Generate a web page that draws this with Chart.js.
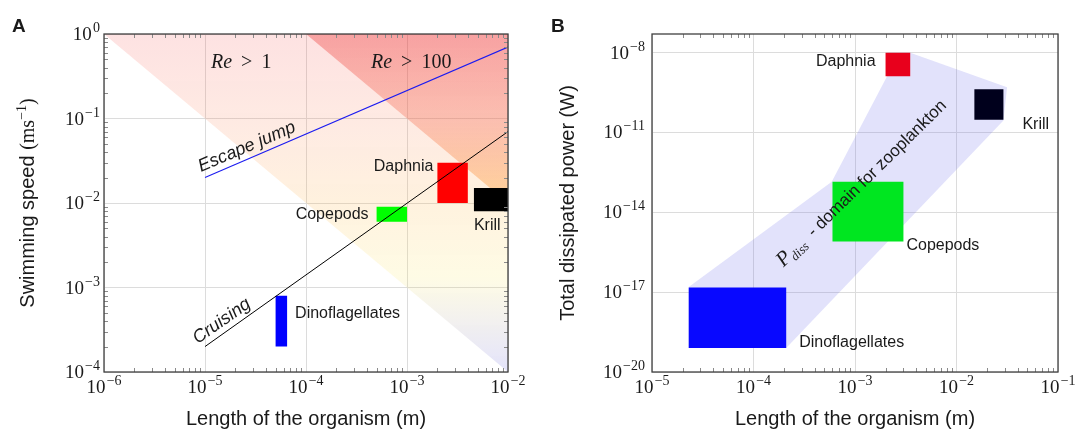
<!DOCTYPE html>
<html>
<head>
<meta charset="utf-8">
<script src="https://cdn.jsdelivr.net/npm/chart.js@4.4.0/dist/chart.umd.min.js"></script>
<style>
  body { margin: 0; background: #fff; }
  #wrap { position: relative; width: 1076px; height: 429px; }
  canvas { position: absolute; top: 0; }
</style>
</head>
<body>
<div id="wrap">
  <canvas id="chartA" width="540" height="429" style="left:0"></canvas>
  <canvas id="chartB" width="536" height="429" style="left:540px"></canvas>
</div>
<script>
// ---------- PANEL A : swimming speed vs length ----------
const organisms = ['Dinoflagellates', 'Copepods', 'Daphnia', 'Krill'];
const lenLowA = [5e-5, 5e-4, 2e-3, 4.6e-3];
const lenHighA = [6.5e-5, 1e-3, 4e-3, 1.2e-2];
const speedLow = [2e-4, 6e-3, 1e-2, 8e-3];
const speedHigh = [8e-4, 9e-3, 3e-2, 1.5e-2];

const escapeL = [1e-5, 1e-2];
const escapeU = [0.02, 0.7];
const cruiseL = [1e-5, 1e-2];
const cruiseU = [2e-4, 0.07];
// Reynolds number boundaries (Re = 1 and Re = 100)
const re1L = [1e-6, 1e-2];
const re1U = [1, 1e-4];
const re100L = [1e-4, 1e-2];
const re100U = [1, 1e-2];

const xExpA = [-6, -5, -4, -3, -2];
const yExpA = [0, -1, -2, -3, -4];

// ---------- PANEL B : dissipated power vs length ----------
const lenLowB = [2.3e-5, 6e-4, 2e-3, 1.5e-2];
const lenHighB = [2.1e-4, 3e-3, 3.5e-3, 2.9e-2];
const powerLow = [8e-20, 8e-16, 1.3e-9, 3e-11];
const powerHigh = [1.5e-17, 1.4e-13, 1e-8, 4.2e-10];

// outline of the shaded P_diss domain
const domainL = [2.3e-5, 2.3e-5, 5.9e-4, 2.07e-3, 2.07e-3, 3.5e-3, 3.15e-2, 2.9e-2, 2.1e-4];
const domainP = [8e-20, 1.55e-17, 1.4e-13, 1.3e-9, 1e-8, 1e-8, 5e-10, 2.8e-11, 8e-20];

const xExpB = [-5, -4, -3, -2, -1];
const yExpB = [-8, -11, -14, -17, -20];

const colorsA = ['#0000ff', '#00ff00', '#ff0000', '#000000'];
const colorsB = ['#0808ff', '#00e620', '#e8001c', '#00001c'];

const SANS = '"Liberation Sans", Arial, sans-serif';
const SERIF = '"Liberation Serif", "Times New Roman", serif';
const TXT = '#1a1a1a';

function pts(xs, ys) {
    return xs.map((x, i) => ({ x: x, y: ys[i] }));
}
function box(x0, x1, y0, y1) {
    return [{ x: x0, y: y0 }, { x: x0, y: y1 }, { x: x1, y: y1 }, { x: x1, y: y0 }, { x: x0, y: y0 }];
}
function minors(e0, e1) {
    let out = [];
    for (let e = e0; e < e1; e++) for (let k = 2; k <= 9; k++) out.push(k * Math.pow(10, e));
    return out;
}

// vertical gradient across the chart area
function vGrad(stops) {
    return function (context) {
        const area = context.chart.chartArea;
        if (!area) return 'rgba(0,0,0,0)';
        const g = context.chart.ctx.createLinearGradient(0, area.top, 0, area.bottom);
        stops.forEach(s => g.addColorStop(s[0], s[1]));
        return g;
    };
}

function logAxis(min, max, exps) {
    return {
        type: 'logarithmic',
        min: min,
        max: max,
        bounds: 'data',
        ticks: { display: false },
        grid: { color: '#dcdcdc', lineWidth: 1, drawTicks: false },
        border: { display: false },
        afterBuildTicks: function (scale) {
            scale.ticks = exps.map(e => ({ value: Math.pow(10, e) }));
        }
    };
}

function rectSet(name, lo, hi, ylo, yhi, color) {
    return { label: name, data: box(lo, hi, ylo, yhi), fill: 'shape', backgroundColor: color,
             borderColor: color, borderWidth: 0, pointRadius: 0, order: 1 };
}

// draws text made of several runs (different fonts, super/subscripts)
function drawRuns(ctx, runs, x, y, align, angle) {
    ctx.save();
    ctx.translate(x, y);
    ctx.rotate((angle || 0) * Math.PI / 180);
    ctx.textAlign = 'left';
    ctx.textBaseline = 'alphabetic';
    let w = 0;
    runs.forEach(r => { ctx.font = r.font; r.w = ctx.measureText(r.text).width; w += r.w; });
    let cx = align === 'center' ? -w / 2 : (align === 'right' ? -w : 0);
    runs.forEach(r => {
        ctx.font = r.font;
        ctx.fillStyle = TXT;
        ctx.fillText(r.text, cx, r.dy || 0);
        cx += r.w;
    });
    ctx.restore();
}

function label(ctx, text, x, y, align, font, angle) {
    ctx.save();
    ctx.translate(x, y);
    ctx.rotate((angle || 0) * Math.PI / 180);
    ctx.font = font;
    ctx.fillStyle = TXT;
    ctx.textAlign = align;
    ctx.textBaseline = 'middle';
    ctx.fillText(text, 0, 0);
    ctx.restore();
}

function powRuns(e) {
    const sup = e < 0 ? '\u2212' + (-e) : String(e);
    return [{ text: '10', font: '19px ' + SERIF }, { text: '\u200a' + sup, font: '14px ' + SERIF, dy: -8 }];
}

// frame, inner tick marks, tick labels, titles
function makeDecor(cfg) {
    return {
        id: 'decor' + cfg.panel,
        afterDraw: function (chart) {
            const ctx = chart.ctx;
            const a = chart.chartArea;
            const sx = chart.scales.x, sy = chart.scales.y;
            ctx.save();
            ctx.strokeStyle = '#8a8a8a';
            ctx.lineWidth = 1;
            ctx.beginPath();
            cfg.minorX.forEach(v => {
                const px = Math.round(sx.getPixelForValue(v)) + 0.5;
                ctx.moveTo(px, a.bottom); ctx.lineTo(px, a.bottom - 4);
                ctx.moveTo(px, a.top); ctx.lineTo(px, a.top + 4);
            });
            cfg.minorY.forEach(v => {
                const py = Math.round(sy.getPixelForValue(v)) + 0.5;
                ctx.moveTo(a.left, py); ctx.lineTo(a.left + 4, py);
                ctx.moveTo(a.right, py); ctx.lineTo(a.right - 4, py);
            });
            ctx.stroke();
            ctx.strokeStyle = '#404040';
            ctx.lineWidth = 1.3;
            ctx.strokeRect(a.left, a.top, a.right - a.left, a.bottom - a.top);
            ctx.restore();

            cfg.xExp.forEach(e => {
                drawRuns(ctx, powRuns(e), sx.getPixelForValue(Math.pow(10, e)), a.bottom + 21, 'center');
            });
            cfg.yExp.forEach(e => {
                drawRuns(ctx, powRuns(e), a.left - cfg.yGap, sy.getPixelForValue(Math.pow(10, e)) + 6, 'right');
            });

            drawRuns(ctx, [{ text: 'Length of the organism (m)', font: '20px ' + SANS }],
                     (a.left + a.right) / 2, 425, 'center');
            drawRuns(ctx, cfg.yTitle, cfg.yTitleX, (a.top + a.bottom) / 2, 'center', -90);
            drawRuns(ctx, [{ text: cfg.panel, font: 'bold 19px ' + SANS }], cfg.panelX, 32, 'left');

            cfg.extra(chart);
        }
    };
}

function reRuns(limit) {
    return [
        { text: 'Re', font: 'italic 20px ' + SERIF },
        { text: ' \u2009>\u2009 ' + limit, font: '20px ' + SERIF }
    ];
}

function annotateA(chart) {
    const ctx = chart.ctx;
    const px = v => chart.scales.x.getPixelForValue(v);
    const py = v => chart.scales.y.getPixelForValue(v);
    const f = '16px ' + SANS;
    label(ctx, 'Daphnia', px(lenLowA[2]) - 4, py(speedHigh[2]) + 4, 'right', f);
    label(ctx, 'Krill', px(lenLowA[3]), py(speedLow[3]) + 14, 'left', f);
    label(ctx, 'Copepods', px(lenLowA[1]) - 8, (py(speedLow[1]) + py(speedHigh[1])) / 2, 'right', f);
    label(ctx, 'Dinoflagellates', px(lenHighA[0]) + 8, py(speedHigh[0]) + 18, 'left', f);

    const top = chart.chartArea.top;
    drawRuns(ctx, reRuns('1'), px(1e-5) + 6, top + 34, 'left');
    drawRuns(ctx, reRuns('100'), px(1e-4) + 65, top + 34, 'left');

    label(ctx, 'Escape jump', px(2.6e-5), py(0.046), 'center', 'italic 18px ' + SANS, -23.2);
    label(ctx, 'Cruising', px(1.47e-5), py(4e-4), 'center', 'italic 18px ' + SANS, -35.3);
}

function annotateB(chart) {
    const ctx = chart.ctx;
    const px = v => chart.scales.x.getPixelForValue(v);
    const py = v => chart.scales.y.getPixelForValue(v);
    const f = '16px ' + SANS;
    label(ctx, 'Daphnia', px(lenLowB[2]) - 10, py(powerHigh[2]) + 9, 'right', f);
    label(ctx, 'Krill', px(lenHighB[3]) + 19, py(powerLow[3]) + 5, 'left', f);
    label(ctx, 'Copepods', px(lenHighB[1]) + 3, py(powerLow[1]) + 4, 'left', f);
    label(ctx, 'Dinoflagellates', px(lenHighB[0]) + 13, py(powerLow[0]) - 5, 'left', f);

    drawRuns(ctx, [
        { text: 'P', font: 'italic 21px ' + SERIF, dy: 6 },
        { text: 'diss', font: 'italic 13px ' + SERIF, dy: 10 },
        { text: '  - domain for zooplankton', font: '17px ' + SANS, dy: 6 }
    ], px(1.15e-3), py(1.3e-13), 'center', -44.5);
}

// ---------- chart A ----------
const chartA = new Chart(document.getElementById('chartA'), {
    type: 'line',
    data: {
        datasets: [
            ...organisms.map((n, i) => rectSet(n, lenLowA[i], lenHighA[i], speedLow[i], speedHigh[i], colorsA[i])),
            { label: 'Escape jump', data: pts(escapeL, escapeU), borderColor: '#1c1cf0', borderWidth: 1.1,
              pointRadius: 0, fill: false, order: 0 },
            { label: 'Cruising', data: pts(cruiseL, cruiseU), borderColor: '#000', borderWidth: 1,
              pointRadius: 0, fill: false, order: 0 },
            { label: 'Re > 100', data: pts(re100L, re100U), fill: 'end', borderWidth: 0, pointRadius: 0, order: 2,
              backgroundColor: vGrad([[0, 'rgba(235,30,30,0.33)'], [0.25, 'rgba(245,90,60,0.30)'],
                                      [0.5, 'rgba(255,160,40,0.38)']]) },
            { label: 'Re > 1', data: pts(re1L, re1U), fill: 'end', borderWidth: 0, pointRadius: 0, order: 3,
              backgroundColor: vGrad([[0, 'rgba(245,60,60,0.15)'], [0.28, 'rgba(250,130,80,0.16)'],
                                      [0.5, 'rgba(255,175,60,0.17)'], [0.72, 'rgba(250,230,80,0.15)'],
                                      [1, 'rgba(80,80,230,0.16)']]) }
        ]
    },
    options: {
        responsive: false,
        animation: false,
        events: [],
        layout: { padding: { left: 104, top: 34, right: 32, bottom: 57 } },
        plugins: { legend: { display: false }, tooltip: { enabled: false } },
        scales: { x: logAxis(1e-6, 1e-2, xExpA), y: logAxis(1e-4, 1, yExpA) }
    },
    plugins: [makeDecor({
        panel: 'A', panelX: 12, xExp: xExpA, yExp: yExpA, yGap: 4,
        minorX: minors(-6, -2), minorY: minors(-4, 0),
        yTitleX: 34,
        yTitle: [
            { text: 'Swimming speed ', font: '20px ' + SANS },
            { text: '(ms', font: '20px ' + SERIF },
            { text: '\u22121', font: '14px ' + SERIF, dy: -8 },
            { text: ')', font: '20px ' + SERIF }
        ],
        extra: annotateA
    })]
});

// ---------- chart B ----------
const chartB = new Chart(document.getElementById('chartB'), {
    type: 'line',
    data: {
        datasets: [
            ...organisms.map((n, i) => rectSet(n, lenLowB[i], lenHighB[i], powerLow[i], powerHigh[i], colorsB[i])),
            { label: 'P_diss domain', data: pts(domainL, domainP), fill: 'shape',
              backgroundColor: 'rgba(110,110,235,0.2)', borderWidth: 0, pointRadius: 0, order: 2 }
        ]
    },
    options: {
        responsive: false,
        animation: false,
        events: [],
        layout: { padding: { left: 112, top: 34, right: 18, bottom: 57 } },
        plugins: { legend: { display: false }, tooltip: { enabled: false } },
        scales: { x: logAxis(1e-5, 1e-1, xExpB), y: logAxis(1e-20, Math.pow(10, -7.3), yExpB) }
    },
    plugins: [makeDecor({
        panel: 'B', panelX: 11, xExp: xExpB, yExp: yExpB, yGap: 7,
        minorX: minors(-5, -1), minorY: [],
        yTitleX: 34,
        yTitle: [{ text: 'Total dissipated power (W)', font: '20px ' + SANS }],
        extra: annotateB
    })]
});
</script>
</body>
</html>
